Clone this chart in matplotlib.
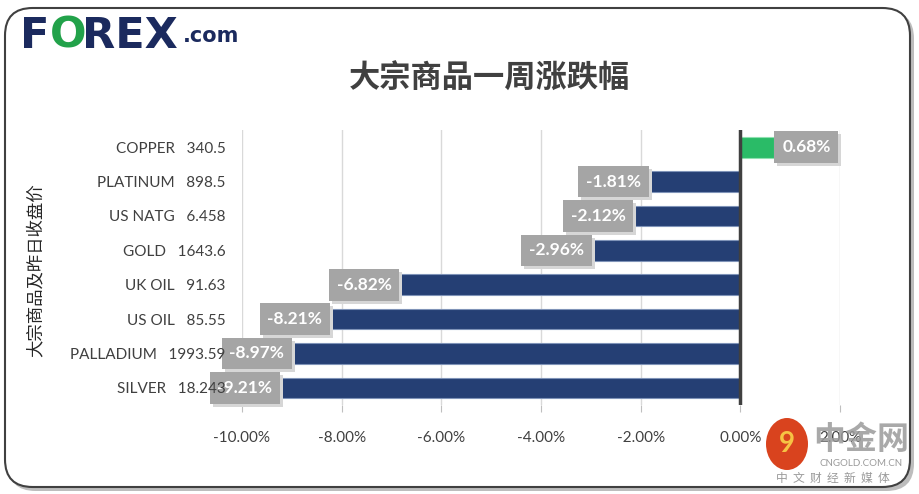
import numpy as np
import matplotlib.pyplot as plt
from matplotlib.patches import FancyBboxPatch, Ellipse
from matplotlib.transforms import offset_copy

plt.rcParams['font.family'] = ['Lato', 'Noto Sans CJK SC', 'DejaVu Sans']

names = ['COPPER', 'PLATINUM', 'US NATG', 'GOLD', 'UK OIL', 'US OIL', 'PALLADIUM', 'SILVER']
prices = ['340.5', '898.5', '6.458', '1643.6', '91.63', '85.55', '1993.59', '18.243']
changes = [0.68, -1.81, -2.12, -2.96, -6.82, -8.21, -8.97, -9.21]
xticks = [-10, -8, -6, -4, -2, 0, 2]

W, H = 920, 494
fig = plt.figure(figsize=(W / 100, H / 100), dpi=100)
fig.patch.set_facecolor('white')

# rounded frame with shadow
shadow = FancyBboxPatch((8 / W, 3 / H), 906 / W, 480 / H,
                        boxstyle='round,pad=0,rounding_size=0.03',
                        transform=fig.transFigure, fc='#bdbdbd', ec='none',
                        zorder=-2, mutation_aspect=W / H)
frame = FancyBboxPatch((5 / W, 7 / H), 905 / W, 479 / H,
                       boxstyle='round,pad=0,rounding_size=0.03',
                       transform=fig.transFigure, fc='white', ec='#404040',
                       lw=1.5, zorder=-1, mutation_aspect=W / H)
fig.patches.extend([shadow, frame])

ax = fig.add_axes([242 / W, 1 - 405 / H, 598 / W, 275 / H])
ax.set_facecolor('none')

y = np.arange(len(names))
colors = ['#2abb67' if c > 0 else '#253f74' for c in changes]
edges = ['#8fe0b0' if c > 0 else '#7f93b8' for c in changes]
ax.barh(y, changes, height=0.6, color=colors, edgecolor=edges, linewidth=0.8, zorder=3)

ax.set_xlim(-10, 2)
ax.set_ylim(len(names) - 0.5, -0.5)
ax.set_xticks(xticks)
ax.set_xticklabels([f'{v:.2f}%' for v in xticks], fontsize=11, color='#404040')
ax.set_yticks(y)
ax.set_yticklabels([f'{n}   {p}' for n, p in zip(names, prices)], fontsize=11, color='#404040')
ax.tick_params(axis='y', length=0, pad=12)
ax.tick_params(axis='x', length=5, color='#bfbfbf', pad=14, direction='out')
ax.grid(axis='x', color='#d9d9d9', lw=1, zorder=0)
ax.yaxis.set_zorder(10)
for s in ax.spines.values():
    s.set_visible(False)
ax.axvline(0, color='#404040', lw=2.5, zorder=4)

# data labels: gray boxes with shadow
for yi, c in zip(y, changes):
    ha = 'left' if c > 0 else 'right'
    dx = 8 if c > 0 else -9
    txt = f'{c:.2f}%'
    sh = offset_copy(ax.transData, fig=fig, x=dx + 3, y=-3, units='dots')
    ax.text(c, yi, txt, transform=sh, ha=ha, va='center', fontsize=12.5,
            fontweight='bold', color='#d6d6d6',
            bbox=dict(boxstyle='square,pad=0.45', fc='#d6d6d6', ec='none'), zorder=5)
    tr = offset_copy(ax.transData, fig=fig, x=dx, y=0, units='dots')
    ax.text(c, yi, txt, transform=tr, ha=ha, va='center', fontsize=12.5,
            fontweight='bold', color='white',
            bbox=dict(boxstyle='square,pad=0.45', fc='#a5a5a5', ec='none'), zorder=6)

# title and axis label
fig.text(489 / W, 1 - 79 / H, '大宗商品一周涨跌幅', ha='center', va='center',
         fontsize=22.5, fontweight='bold', color='#404040',
         family=['Noto Sans CJK SC', 'DejaVu Sans'])
fig.text(36 / W, 1 - 270 / H, '大宗商品及昨日收盘价', ha='center', va='center', rotation=90,
         fontsize=12.5, color='#262626', family=['Noto Sans CJK SC', 'DejaVu Sans'])

# FOREX.com logo
navy = '#1b2a5e'
fig.text(20 / W, 1 - 36 / H, 'F', fontsize=31, fontweight='bold', color=navy,
         va='center', ha='left', family='DejaVu Sans')
fig.text(50 / W, 1 - 36 / H, 'O', fontsize=31, fontweight='bold', color='#22a24a',
         va='center', ha='left', family='DejaVu Sans')
fig.text(82 / W, 1 - 36 / H, 'REX', fontsize=31, fontweight='bold', color=navy,
         va='center', ha='left', family='DejaVu Sans')
fig.text(183 / W, 1 - 36 / H, '.com', fontsize=15, fontweight='bold', color=navy,
         va='center', ha='left', family='DejaVu Sans')

# watermark
fig.patches.append(Ellipse((787 / W, 1 - 444 / H), 42 / W, 52 / H, transform=fig.transFigure,
                           fc='#d9431e', ec='none', zorder=7))
fig.text(787 / W, 1 - 444 / H, '9', fontsize=20, fontweight='bold', color='#f6c344',
         ha='center', va='center', zorder=8)
fig.text(861 / W, 1 - 440 / H, '中金网', fontsize=23, fontweight='bold', color='#9a9a9a',
         ha='center', va='center', alpha=0.85, zorder=8,
         family=['Noto Sans CJK SC', 'DejaVu Sans'])
fig.text(861 / W, 1 - 463 / H, 'CNGOLD.COM.CN', fontsize=7, color='#9a9a9a',
         ha='center', va='center')
fig.text(833 / W, 1 - 478 / H, '中  文  财  经  新  媒  体', fontsize=8.5, color='#9a9a9a',
         ha='center', va='center', family=['Noto Sans CJK SC', 'DejaVu Sans'])

fig.savefig('out.png', dpi=100)
